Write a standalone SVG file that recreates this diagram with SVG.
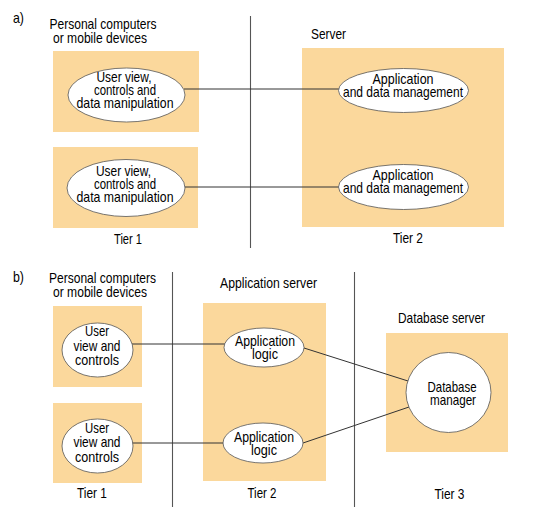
<svg xmlns="http://www.w3.org/2000/svg" width="541" height="522" viewBox="0 0 541 522">
<style>
text{font-family:"Liberation Sans",Arial,sans-serif;font-size:14.5px;fill:#000;text-anchor:middle}
.l{text-anchor:start}
.box{fill:#FBD89C;stroke:none}
.el{fill:#fff;stroke:#555;stroke-width:0.8}
.div{stroke:#555;stroke-width:1.1;fill:none}
.con{stroke:#333;stroke-width:1;fill:none}
</style>
<rect width="541" height="522" fill="#fff"/>
<g id="dividers">
<line class="div" x1="250.5" y1="16" x2="250.5" y2="248"/>
<line class="div" x1="172.5" y1="272" x2="172.5" y2="507"/>
<line class="div" x1="354.5" y1="272" x2="354.5" y2="507"/>
</g>
<g id="labels">
<text class="l" x="13" y="23" textLength="11" lengthAdjust="spacingAndGlyphs">a)</text>
<text x="103" y="29" textLength="107" lengthAdjust="spacingAndGlyphs">Personal computers</text>
<text x="100" y="43" textLength="94" lengthAdjust="spacingAndGlyphs">or mobile devices</text>
<text x="128" y="244" textLength="28" lengthAdjust="spacingAndGlyphs">Tier 1</text>
<text class="l" x="311" y="39" textLength="35" lengthAdjust="spacingAndGlyphs">Server</text>
<text x="408" y="243" textLength="30" lengthAdjust="spacingAndGlyphs">Tier 2</text>
<text class="l" x="13" y="282" textLength="11" lengthAdjust="spacingAndGlyphs">b)</text>
<text x="102.5" y="283" textLength="107" lengthAdjust="spacingAndGlyphs">Personal computers</text>
<text x="100" y="297" textLength="94" lengthAdjust="spacingAndGlyphs">or mobile devices</text>
<text x="92" y="498" textLength="30" lengthAdjust="spacingAndGlyphs">Tier 1</text>
<text x="268.5" y="288" textLength="97" lengthAdjust="spacingAndGlyphs">Application server</text>
<text x="262" y="498" textLength="29" lengthAdjust="spacingAndGlyphs">Tier 2</text>
<text x="441.5" y="323" textLength="87" lengthAdjust="spacingAndGlyphs">Database server</text>
<text x="449.5" y="499" textLength="30" lengthAdjust="spacingAndGlyphs">Tier 3</text>
</g>
<g id="pc-box-a1"><rect class="box" x="53" y="51" width="146" height="81"/></g>
<g id="pc-box-a2"><rect class="box" x="53" y="147" width="145" height="81"/></g>
<g id="server-box-a"><rect class="box" x="302" y="48" width="202" height="179"/></g>
<g id="pc-box-b1"><rect class="box" x="53" y="306" width="89" height="81"/></g>
<g id="pc-box-b2"><rect class="box" x="53" y="403" width="89" height="80"/></g>
<g id="app-server-box"><rect class="box" x="203" y="303" width="123" height="178"/></g>
<g id="db-server-box"><rect class="box" x="386" y="333" width="122" height="119"/></g>
<g id="connectors">
<line class="con" x1="184" y1="89" x2="339" y2="89"/>
<line class="con" x1="184" y1="187" x2="339" y2="187"/>
<line class="con" x1="132" y1="344" x2="225" y2="344"/>
<line class="con" x1="132" y1="443" x2="224" y2="443"/>
<line class="con" x1="304" y1="348" x2="408" y2="381"/>
<line class="con" x1="303" y1="443" x2="409" y2="407"/>
</g>
<g id="ui-a1">
<ellipse class="el" cx="126.5" cy="95" rx="58.5" ry="27"/>
<text x="124" y="82" textLength="55" lengthAdjust="spacingAndGlyphs">User view,</text>
<text x="125" y="95" textLength="62" lengthAdjust="spacingAndGlyphs">controls and</text>
<text x="125" y="108" textLength="97" lengthAdjust="spacingAndGlyphs">data manipulation</text>
</g>
<g id="ui-a2">
<ellipse class="el" cx="126" cy="188" rx="59" ry="28.5"/>
<text x="123.5" y="176" textLength="55" lengthAdjust="spacingAndGlyphs">User view,</text>
<text x="125" y="189" textLength="62" lengthAdjust="spacingAndGlyphs">controls and</text>
<text x="125" y="202" textLength="97" lengthAdjust="spacingAndGlyphs">data manipulation</text>
</g>
<g id="app-a1">
<ellipse class="el" cx="403.5" cy="90.5" rx="65" ry="22"/>
<text x="403" y="84" textLength="61" lengthAdjust="spacingAndGlyphs">Application</text>
<text x="403" y="97" textLength="120" lengthAdjust="spacingAndGlyphs">and data management</text>
</g>
<g id="app-a2">
<ellipse class="el" cx="403.5" cy="187" rx="65" ry="22.5"/>
<text x="403" y="179.5" textLength="61" lengthAdjust="spacingAndGlyphs">Application</text>
<text x="403" y="192.5" textLength="120" lengthAdjust="spacingAndGlyphs">and data management</text>
</g>
<g id="ui-b1">
<ellipse class="el" cx="97.5" cy="350" rx="35.5" ry="27"/>
<text x="97" y="336" textLength="24" lengthAdjust="spacingAndGlyphs">User</text>
<text x="97" y="350.5" textLength="47" lengthAdjust="spacingAndGlyphs">view and</text>
<text x="97" y="365" textLength="44" lengthAdjust="spacingAndGlyphs">controls</text>
</g>
<g id="ui-b2">
<ellipse class="el" cx="97.5" cy="446" rx="35.5" ry="27"/>
<text x="97" y="432.5" textLength="24" lengthAdjust="spacingAndGlyphs">User</text>
<text x="97" y="447" textLength="47" lengthAdjust="spacingAndGlyphs">view and</text>
<text x="97" y="461.5" textLength="44" lengthAdjust="spacingAndGlyphs">controls</text>
</g>
<g id="logic-b1">
<ellipse class="el" cx="264" cy="347.5" rx="40" ry="19.5"/>
<text x="265" y="346" textLength="60" lengthAdjust="spacingAndGlyphs">Application</text>
<text x="265" y="359" textLength="26" lengthAdjust="spacingAndGlyphs">logic</text>
</g>
<g id="logic-b2">
<ellipse class="el" cx="263" cy="443" rx="40" ry="20"/>
<text x="264" y="442" textLength="60" lengthAdjust="spacingAndGlyphs">Application</text>
<text x="264" y="455" textLength="26" lengthAdjust="spacingAndGlyphs">logic</text>
</g>
<g id="db-manager">
<ellipse class="el" cx="448.5" cy="392.5" rx="42.5" ry="40"/>
<text x="452" y="392" textLength="49" lengthAdjust="spacingAndGlyphs">Database</text>
<text x="453" y="405" textLength="46" lengthAdjust="spacingAndGlyphs">manager</text>
</g>
</svg>
